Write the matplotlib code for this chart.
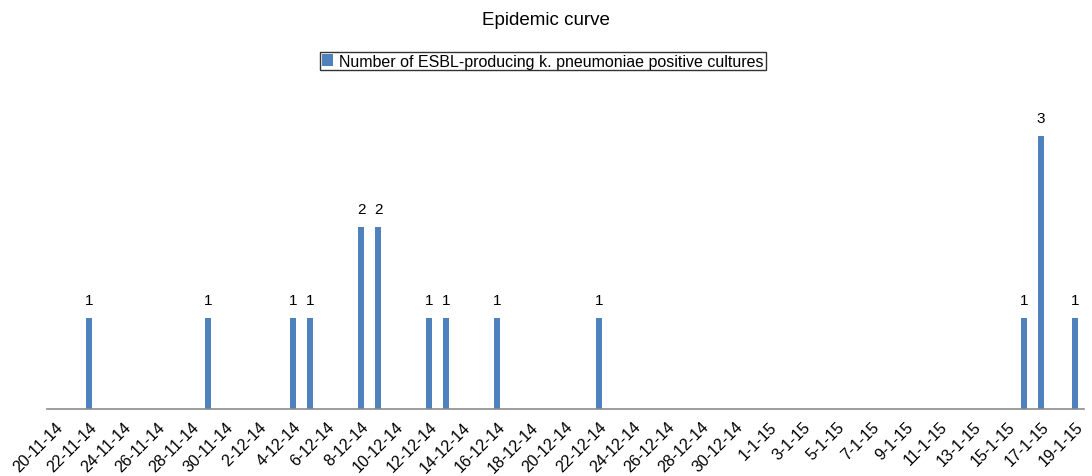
import matplotlib
matplotlib.use("Agg")
import matplotlib.pyplot as plt
import numpy as np
import pandas as pd

plt.rcParams["font.family"] = ["Liberation Sans", "DejaVu Sans"]

# daily categories shown on the axis
START = "2014-11-20"
END = "2015-01-19"

# dates with positive cultures and their counts
case_dates = ["2014-11-22", "2014-11-29", "2014-12-04", "2014-12-05",
              "2014-12-08", "2014-12-09", "2014-12-12", "2014-12-13",
              "2014-12-16", "2014-12-22", "2015-01-16", "2015-01-17",
              "2015-01-19"]
case_counts = [1, 1, 1, 1, 2, 2, 1, 1, 1, 1, 1, 3, 1]

BAR_COLOR = "#4F81BD"

days = pd.date_range(START, END, freq="D")
counts = pd.Series(0, index=days)
counts[pd.to_datetime(case_dates)] = case_counts
labels = [f"{d.day}-{d.month}-{d.strftime('%y')}" for d in days]

fig = plt.figure(figsize=(10.92, 4.77), dpi=100)
ax = fig.add_axes([0.0426, 0.1405, 0.9497, 0.668])

x = np.arange(len(days))
ax.bar(x, counts.values, width=0.4, color=BAR_COLOR,
       label="Number of ESBL-producing k. pneumoniae positive cultures")

for xi, v in zip(x, counts.values):
    if v > 0:
        ax.text(xi, v + 0.12, str(v), ha="center", va="bottom", fontsize=11)

ax.set_xlim(-0.5, len(days) - 0.5)
ax.set_ylim(0, 3.5)
ax.set_xticks(x[::2])
ax.set_xticklabels(labels[::2], rotation=45, ha="right", rotation_mode="anchor",
                   fontsize=11.5)
ax.tick_params(axis="x", length=0, pad=7)
ax.set_yticks([])
for s in ("top", "right", "left"):
    ax.spines[s].set_visible(False)
ax.spines["bottom"].set_color("#8c8c8c")
ax.spines["bottom"].set_linewidth(1.2)

fig.suptitle("Epidemic curve", y=0.975, fontsize=13.5)
leg = fig.legend(loc="center", bbox_to_anchor=(0.497, 0.87), fontsize=11.5,
                 frameon=True, fancybox=False, handlelength=0.7, handleheight=0.7,
                 handletextpad=0.4, borderpad=0.12, borderaxespad=0)
leg.get_frame().set_edgecolor("black")
leg.get_frame().set_linewidth(1.0)

fig.savefig("out.png", dpi=100)
